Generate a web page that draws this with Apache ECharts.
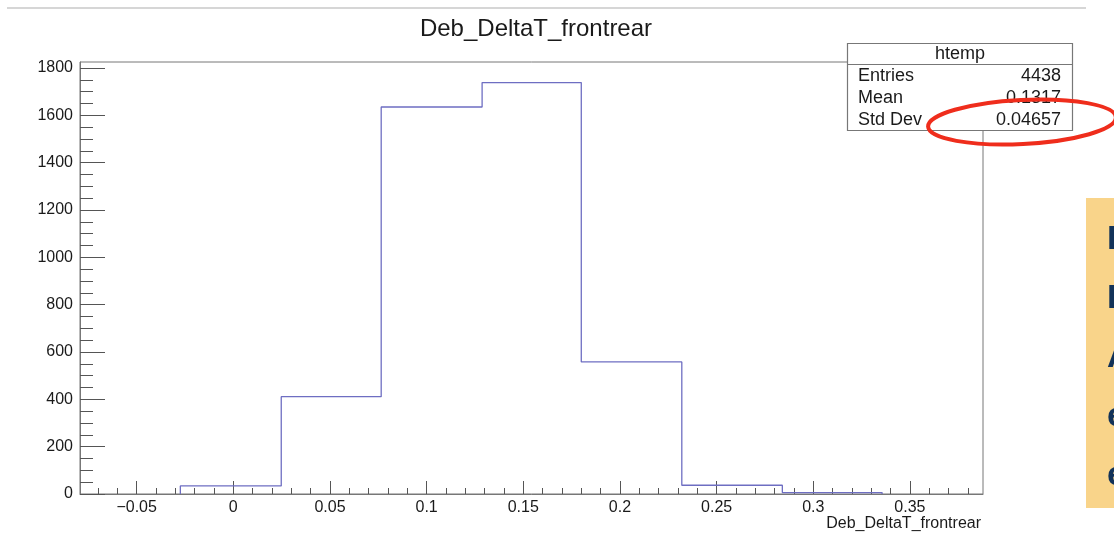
<!DOCTYPE html>
<html>
<head>
<meta charset="utf-8">
<script src="https://cdn.jsdelivr.net/npm/echarts@6/dist/echarts.min.js"></script>
<style>
html,body{margin:0;padding:0;background:#fff;}
#chart{width:1114px;height:533px;}
</style>
</head>
<body>
<div id="chart"></div>
<script>
// ---- data ----
const binEdges = [-0.0274, 0.0248, 0.0765, 0.1287, 0.1800, 0.2320, 0.2840, 0.3356];
const binCounts = [34, 411, 1635, 1738, 558, 37, 6];
const xMajorTicks = [-0.05, 0, 0.05, 0.1, 0.15, 0.2, 0.25, 0.3, 0.35];
const yMajorTicks = [0, 200, 400, 600, 800, 1000, 1200, 1400, 1600, 1800];
const statsLabels = ['Entries', 'Mean', 'Std Dev'];
const statsValues = ['4438', '0.1317', '0.04657'];
const sideText = ['Da', 'De', 'Al', 'ev', 'ev'];

const X_MIN = -0.0793, X_MAX = 0.3878, Y_MIN = 0, Y_MAX = 1825;

// minor tick positions
const xMinorTicks = [];
for (let i = -7; i <= 38; i++) xMinorTicks.push(+(i * 0.01).toFixed(2));
const yMinorTicks = [];
for (let v = 0; v <= 1800; v += 50) yMinorTicks.push(v);

// histogram outline from edges and counts
const outline = [[binEdges[0], 0]];
for (let i = 0; i < binCounts.length; i++) {
  outline.push([binEdges[i], binCounts[i]]);
  outline.push([binEdges[i + 1], binCounts[i]]);
}
outline.push([binEdges[binEdges.length - 1], 0]);

const FONT = '"Liberation Sans", Arial, Helvetica, sans-serif';
const AX = '#777';
const TICK = '#555';
const TXT = '#1a1a1a';

function fmtX(v) {
  if (Math.abs(v) < 1e-9) return '0';
  const s = String(+v.toFixed(2));
  return v < 0 ? '\u2212' + s.slice(1) : s;
}

const chart = echarts.init(document.getElementById('chart'), null, {renderer: 'canvas'});

const option = {
  animation: false,
  backgroundColor: '#fff',
  title: {
    text: 'Deb_DeltaT_frontrear',
    left: 531, textAlign: 'center', top: 12,
    textStyle: {fontFamily: FONT, fontSize: 24, fontWeight: 'normal', color: TXT}
  },
  grid: {left: 80, right: 131, top: 62, bottom: 39, show: true, borderColor: AX, borderWidth: 1, backgroundColor: 'transparent'},
  xAxis: [{
    type: 'value', min: X_MIN, max: X_MAX,
    axisLine: {show: true, onZero: false, lineStyle: {color: AX, width: 1}},
    axisTick: {show: true, inside: true, length: 13, customValues: xMajorTicks, lineStyle: {color: TICK}},
    axisLabel: {show: true, customValues: xMajorTicks, formatter: fmtX, margin: 6,
      fontFamily: FONT, fontSize: 16, color: TXT},
    splitLine: {show: false}
  }, {
    type: 'value', min: X_MIN, max: X_MAX, position: 'bottom',
    axisLine: {show: false, onZero: false},
    axisTick: {show: true, inside: true, length: 6, customValues: xMinorTicks, lineStyle: {color: TICK}},
    axisLabel: {show: false},
    splitLine: {show: false}
  }],
  yAxis: [{
    type: 'value', min: Y_MIN, max: Y_MAX,
    axisLine: {show: true, onZero: false, lineStyle: {color: AX, width: 1}},
    axisTick: {show: true, inside: true, length: 25, customValues: yMajorTicks, lineStyle: {color: TICK}},
    axisLabel: {show: true, customValues: yMajorTicks, formatter: v => String(v), margin: 7,
      fontFamily: FONT, fontSize: 16, color: TXT},
    splitLine: {show: false}
  }, {
    type: 'value', min: Y_MIN, max: Y_MAX, position: 'left',
    axisLine: {show: false, onZero: false},
    axisTick: {show: true, inside: true, length: 13, customValues: yMinorTicks, lineStyle: {color: TICK}},
    axisLabel: {show: false},
    splitLine: {show: false}
  }],
  series: [{
    type: 'line',
    xAxisIndex: 0, yAxisIndex: 0,
    data: outline,
    showSymbol: false,
    symbol: 'none',
    lineStyle: {color: '#6e6ec2', width: 1.3},
    silent: true,
    z: 3
  }],
  graphic: [
    // top separator line of the slide
    {type: 'line', shape: {x1: 7, y1: 8, x2: 1086, y2: 8}, style: {stroke: '#c8c8c8', lineWidth: 1.5}, z: 10},
    // stats box
    {type: 'rect', shape: {x: 847.5, y: 43.5, width: 225, height: 87}, style: {fill: '#fff', stroke: AX, lineWidth: 1.2}, z: 20},
    {type: 'line', shape: {x1: 847.5, y1: 64.5, x2: 1072.5, y2: 64.5}, style: {stroke: AX, lineWidth: 1.2}, z: 21},
    {type: 'text', x: 960, y: 54, z: 22, style: {text: 'htemp', font: '18px ' + FONT, fill: TXT, align: 'center', verticalAlign: 'middle'}},
    ...statsLabels.map((t, i) => ({type: 'text', x: 858, y: 76 + i * 22, z: 22,
      style: {text: t, font: '18px ' + FONT, fill: TXT, align: 'left', verticalAlign: 'middle'}})),
    ...statsValues.map((t, i) => ({type: 'text', x: 1061, y: 76 + i * 22, z: 22,
      style: {text: t, font: '18px ' + FONT, fill: TXT, align: 'right', verticalAlign: 'middle'}})),
    // red annotation ellipse
    {type: 'ellipse', shape: {cx: 1022, cy: 122, rx: 94, ry: 22}, rotation: 0.05, originX: 1022, originY: 122,
      style: {fill: 'none', stroke: '#ef2d1c', lineWidth: 4}, z: 30},
    // yellow side box (cut off slide content)
    {type: 'rect', shape: {x: 1086, y: 198, width: 40, height: 310}, style: {fill: '#f9d48a'}, z: 5},
    ...sideText.map((t, i) => ({type: 'text', x: 1107, y: 240 + i * 59, z: 6,
      style: {text: t, font: 'bold 34px ' + FONT, fill: '#123258', align: 'left', verticalAlign: 'middle'}})),
    // x axis title
    {type: 'text', x: 981, y: 524, z: 10,
      style: {text: 'Deb_DeltaT_frontrear', font: '16px ' + FONT, fill: TXT, align: 'right', verticalAlign: 'middle'}}
  ]
};

chart.setOption(option);
</script>
</body>
</html>
